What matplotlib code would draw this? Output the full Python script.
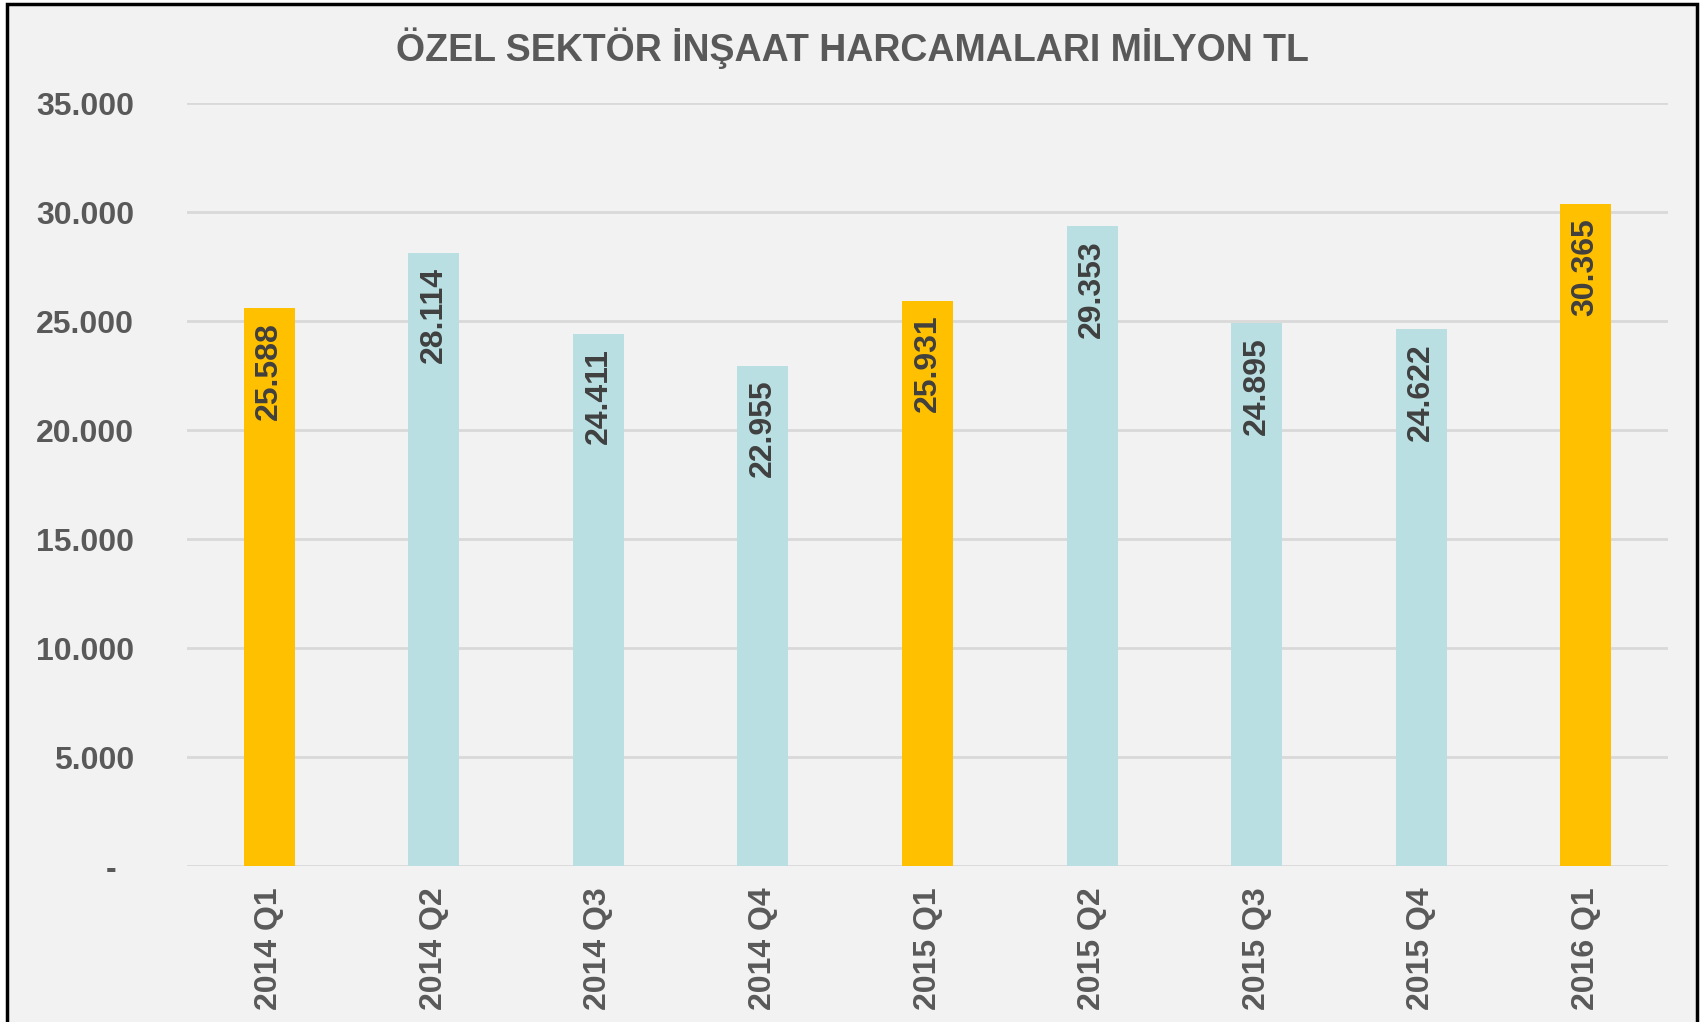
import matplotlib.pyplot as plt
from matplotlib.patches import Rectangle
from matplotlib.ticker import FuncFormatter

categories = ['2014 Q1', '2014 Q2', '2014 Q3', '2014 Q4', '2015 Q1',
              '2015 Q2', '2015 Q3', '2015 Q4', '2016 Q1']
values = [25588, 28114, 24411, 22955, 25931, 29353, 24895, 24622, 30365]
title = 'ÖZEL SEKTÖR İNŞAAT HARCAMALARI MİLYON TL'

GOLD = '#FFC000'
BLUE = '#B9DFE2'
BG = '#F2F2F2'
TXT = '#595959'

plt.rcParams['font.family'] = ['Liberation Sans', 'DejaVu Sans']
plt.rcParams['font.weight'] = 'bold'


def tr_fmt(v, pos=None):
  if v == 0:
    return '-  '
  return '{:,.0f}'.format(v).replace(',', '.')


fig = plt.figure(figsize=(17.02, 10.22), dpi=100, facecolor='white')
# chart frame
fig.patches.append(Rectangle((7 / 1702, -0.01), 1690 / 1702, 1.01 - 4 / 1022,
                             transform=fig.transFigure, facecolor=BG,
                             edgecolor='black', lw=2.5, zorder=-1))

ax = fig.add_axes([0.1099, 0.1526, 0.8701, 0.7466])
ax.set_facecolor('none')

colors = [GOLD if c.endswith('Q1') else BLUE for c in categories]
x = range(len(categories))
bars = ax.bar(x, values, width=0.31, color=colors, zorder=3)

for b, v in zip(bars, values):
  ax.annotate(tr_fmt(v), (b.get_x() + b.get_width() / 2, v),
              xytext=(0, -10), textcoords='offset points',
              rotation=90, ha='center', va='top', fontsize=23,
              fontweight='bold', color='#404040', zorder=4)

ax.set_xlim(-0.5, len(categories) - 0.5)
ax.set_ylim(0, 35000)
ax.set_yticks(range(0, 35001, 5000))
ax.yaxis.set_major_formatter(FuncFormatter(tr_fmt))
ax.set_xticks(list(x))
ax.set_xticklabels(categories, rotation=90, va='top')
ax.tick_params(axis='y', length=0, pad=38, labelsize=23, labelcolor=TXT)
ax.tick_params(axis='x', length=0, pad=15, labelsize=23, labelcolor=TXT)
ax.grid(axis='y', color='#D9D9D9', lw=2, zorder=0)
for s in ax.spines.values():
  s.set_visible(False)

fig.text(0.501, 0.953, title, ha='center', va='center', fontsize=27,
         fontweight='bold', color=TXT)

fig.savefig('out.png', dpi=100, facecolor='white')
